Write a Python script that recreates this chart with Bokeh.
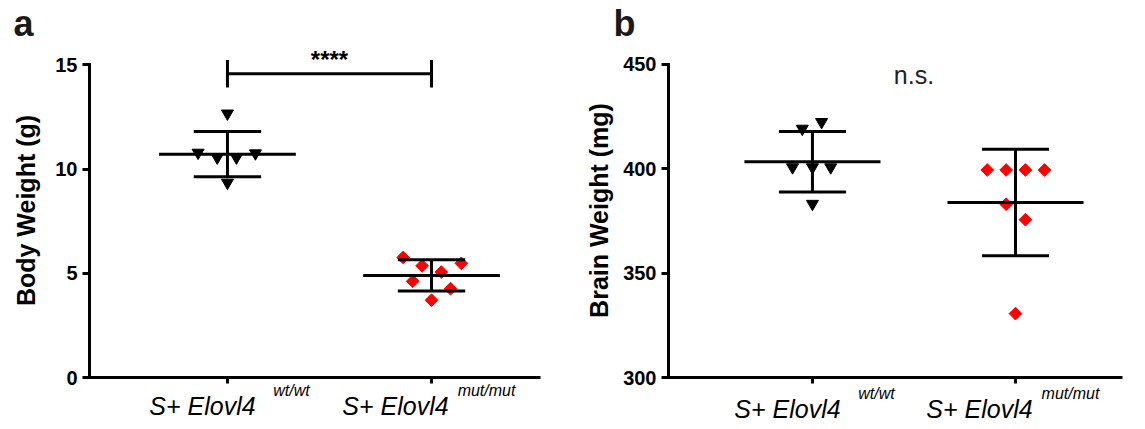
import math
from bokeh.plotting import figure
from bokeh.layouts import row
from bokeh.models import FixedTicker, Range1d, LinearAxis, CustomJSTickFormatter
from bokeh.core.properties import value
from bokeh.embed import file_html
from bokeh.resources import INLINE

# ---------------- data ----------------
group_pos = [1, 2]
group_names = ["S+ Elovl4", "S+ Elovl4"]
group_sup = ["wt/wt", "mut/mut"]

body_wt = [12.67, 10.79, 10.56, 10.56, 10.76, 9.35]
body_wt_jitter = [0.0, -0.144, -0.05, 0.044, 0.137, 0.0]
body_mut = [5.76, 5.36, 5.06, 5.48, 4.62, 4.26, 3.71]
body_mut_jitter = [-0.139, -0.046, 0.048, 0.146, -0.092, 0.093, 0.0]
body_mean = [10.72, 4.90]
body_sd = [1.09, 0.75]
body_ticks = [0, 5, 10, 15]
body_sig_text = "****"
body_sig_level = 14.58

brain_wt = [419.2, 422.4, 400.7, 400.7, 400.7, 383.2]
brain_wt_jitter = [-0.05, 0.045, -0.098, 0.0, 0.09, 0.0]
brain_mut = [399.4, 399.4, 399.4, 399.4, 383.0, 375.6, 330.6]
brain_mut_jitter = [-0.139, -0.046, 0.049, 0.143, -0.046, 0.049, 0.0]
brain_mean = [403.4, 383.8]
brain_sd = [14.5, 25.5]
brain_ticks = [300, 350, 400, 450]
brain_sig_text = "n.s."
brain_sig_level = 444.8

FONT = "Liberation Sans"

# pixel offsets (from each tick) of the centres of the two-part category labels
MAIN_DX = [-25, -36]
SUP_DX = [64, 55]


def make_panel(letter, ylabel, wt, wt_j, mut, mut_j, mean, sd, ticks,
               width, height, xr, yr, borders, ylab_standoff, sup_standoff, main_standoff,
               letter_offset):
    bl, br, bt, bb = borders
    p = figure(width=width, height=height, output_backend="svg",
               toolbar_location=None, x_range=Range1d(*xr), y_range=Range1d(*yr),
               min_border_left=bl, min_border_right=br,
               min_border_top=bt, min_border_bottom=bb, title=letter)
    p.outline_line_color = None
    p.xgrid.visible = False
    p.ygrid.visible = False
    p.background_fill_color = "white"
    p.border_fill_color = "white"

    # panel letter as title
    p.title.text_font = FONT
    p.title.text_font_size = "36px"
    p.title.text_font_style = "bold"
    p.title.text_color = "#1a1a1a"
    p.title.align = "left"
    p.title.offset = letter_offset
    p.title.standoff = 0

    # y axis
    ya = p.yaxis[0]
    ya.ticker = FixedTicker(ticks=ticks)
    ya.bounds = (ticks[0], ticks[-1])
    ya.axis_line_width = 3
    ya.axis_line_cap = "square"
    ya.major_tick_line_width = 3
    ya.major_tick_out = 7
    ya.major_tick_in = 0
    ya.minor_tick_line_color = None
    ya.major_label_text_font = FONT
    ya.major_label_text_font_size = "20px"
    ya.major_label_text_font_style = "bold"
    ya.major_label_text_color = "black"
    ya.major_label_standoff = 5
    ya.axis_label = ylabel
    ya.axis_label_text_font = FONT
    ya.axis_label_text_font_size = "25px"
    ya.axis_label_text_font_style = "bold"
    ya.axis_label_text_color = "black"
    ya.axis_label_standoff = ylab_standoff

    # x axis (line + ticks)
    xa = p.xaxis[0]
    xa.ticker = FixedTicker(ticks=group_pos)
    xa.formatter = CustomJSTickFormatter(code="return ''")
    xa.axis_line_width = 3
    xa.major_tick_line_width = 3
    xa.major_tick_out = 6
    xa.major_tick_in = 0
    xa.major_label_standoff = 0
    xa.minor_tick_line_color = None

    # category labels: superscript row, then main-text row
    fw = width - bl - br
    ppu = fw / (xr[1] - xr[0])
    for labels, dx, size, standoff in ((group_sup, SUP_DX, "16px", sup_standoff),
                                       (group_names, MAIN_DX, "25px", main_standoff)):
        ax = LinearAxis(ticker=FixedTicker(ticks=[g + d / ppu for g, d in zip(group_pos, dx)]),
                        formatter=CustomJSTickFormatter(args=dict(labels=labels),
                                                        code="return labels[index]"))
        ax.axis_line_color = None
        ax.major_tick_line_color = None
        ax.minor_tick_line_color = None
        ax.major_tick_out = 0
        ax.major_tick_in = 0
        ax.major_label_standoff = standoff
        ax.major_label_text_font = FONT
        ax.major_label_text_font_size = size
        ax.major_label_text_font_style = "italic"
        ax.major_label_text_color = "black"
        p.add_layout(ax, "below")

    # points
    p.scatter([group_pos[0] + j for j in wt_j], wt, marker="inverted_triangle",
              size=12, fill_color="black", line_color="black")
    p.scatter([group_pos[1] + j for j in mut_j], mut, marker="square",
              angle=math.pi / 4, size=9, fill_color="#ff0000", line_color="#ff0000")

    # mean +/- SD
    mhw, chw = 0.335, 0.165
    p.segment(x0=[g - mhw for g in group_pos], x1=[g + mhw for g in group_pos],
              y0=mean, y1=mean, line_width=3, line_color="black")
    lo = [m - s for m, s in zip(mean, sd)]
    hi = [m + s for m, s in zip(mean, sd)]
    p.segment(x0=group_pos, x1=group_pos, y0=lo, y1=hi, line_width=3, line_color="black")
    p.segment(x0=[g - chw for g in group_pos], x1=[g + chw for g in group_pos],
              y0=lo, y1=lo, line_width=3, line_color="black")
    p.segment(x0=[g - chw for g in group_pos], x1=[g + chw for g in group_pos],
              y0=hi, y1=hi, line_width=3, line_color="black")
    return p


pa = make_panel("a", "Body Weight (g)", body_wt, body_wt_jitter, body_mut, body_mut_jitter,
                body_mean, body_sd, body_ticks,
                width=570, height=429, xr=(0.324, 2.534), yr=(0, 16.03),
                borders=(89, 30, 41, 49), ylab_standoff=12, sup_standoff=-2, main_standoff=-10,
                letter_offset=-76)

# significance bar (panel a)
cap = 0.66
pa.segment(x0=[group_pos[0]], x1=[group_pos[1]], y0=[body_sig_level], y1=[body_sig_level],
           line_width=3, line_color="black")
pa.segment(x0=group_pos, x1=group_pos, y0=[body_sig_level - cap] * 2,
           y1=[body_sig_level + cap] * 2, line_width=3, line_color="black")
pa.text(x=[sum(group_pos) / 2], y=[body_sig_level + 0.69], text=[body_sig_text],
        text_font=value(FONT), text_font_size="24px", text_font_style="bold",
        text_align="center", text_baseline="alphabetic", text_color="black")

pb = make_panel("b", "Brain Weight (mg)", brain_wt, brain_wt_jitter, brain_mut, brain_mut_jitter,
                brain_mean, brain_sd, brain_ticks,
                width=574, height=429, xr=(0.291, 2.527), yr=(300, 460.0),
                borders=(98, 22, 41, 52), ylab_standoff=7, sup_standoff=1, main_standoff=-10,
                letter_offset=-55)

pb.text(x=[sum(group_pos) / 2], y=[brain_sig_level], text=[brain_sig_text],
        text_font=value(FONT), text_font_size="25px", text_font_style="normal",
        text_align="center", text_baseline="alphabetic", text_color="#222222")

layout = row(pa, pb, spacing=0)
open("out.html", "w").write(file_html(layout, INLINE))
